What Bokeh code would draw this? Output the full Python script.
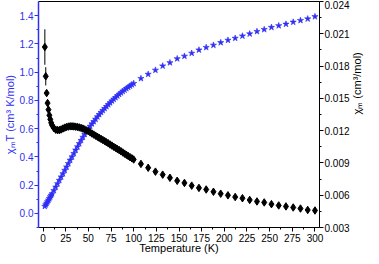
import math
from bokeh.plotting import figure
from bokeh.models import (Range1d, LinearAxis, FixedTicker, SingleIntervalTicker,
                          NumeralTickFormatter)
from bokeh.embed import file_html
from bokeh.resources import INLINE

# Temperature (K)
temps = [2, 3, 4, 5, 6, 7, 8, 9, 10, 12, 14, 16, 18, 20, 22, 24, 26, 28, 30, 32,
         34, 36, 38, 40, 42, 44, 46, 48, 50, 52, 54, 56, 58, 60, 62, 64, 66, 68, 70,
         72, 74, 76, 78, 80, 82, 84, 86, 88, 90, 92, 94, 96, 98, 100,
         108, 116, 124, 132, 140, 148, 156, 164, 172, 180, 188, 196, 204, 212, 220,
         228, 236, 244, 252, 260, 268, 276, 284, 292, 300]

# chi_m T (cm3 K/mol), left axis
chiT = [0.050, 0.061, 0.072, 0.083, 0.094, 0.105, 0.117, 0.128, 0.139, 0.162,
        0.186, 0.210, 0.234, 0.258, 0.281, 0.305, 0.329, 0.353, 0.377, 0.400,
        0.424, 0.448, 0.471, 0.494, 0.517, 0.539, 0.560, 0.580, 0.599, 0.617,
        0.634, 0.650, 0.667, 0.684, 0.700, 0.715, 0.729, 0.743, 0.757,
        0.770, 0.783, 0.796, 0.808, 0.820, 0.832, 0.843, 0.854, 0.864, 0.874,
        0.884, 0.893, 0.902, 0.911, 0.920,
        0.955, 0.985, 1.014, 1.044, 1.067, 1.095, 1.113, 1.134, 1.157, 1.175,
        1.191, 1.209, 1.226, 1.240, 1.256, 1.271, 1.288, 1.302, 1.317, 1.329,
        1.340, 1.354, 1.366, 1.377, 1.393]

# chi_m (cm3/mol), right axis
chi = [0.01977, 0.01705, 0.01549, 0.01456, 0.01395, 0.01343, 0.01305, 0.01273,
       0.01250, 0.01223, 0.01209, 0.01205, 0.01205, 0.01211, 0.01220, 0.01228,
       0.01234, 0.01238, 0.01240, 0.01240, 0.01239, 0.01237, 0.01234, 0.01230,
       0.01225, 0.01219, 0.01211, 0.01202, 0.01194, 0.01184, 0.01173, 0.01163,
       0.01153, 0.01143, 0.01133, 0.01123, 0.01113, 0.01103, 0.01092, 0.01082,
       0.01071, 0.01061, 0.01050, 0.01040, 0.01029, 0.01019, 0.01008, 0.00997,
       0.00986, 0.00975, 0.00964, 0.00953, 0.00943, 0.00932,
       0.00891, 0.00855, 0.00819, 0.00791, 0.00762, 0.00734, 0.00714, 0.00689,
       0.00668, 0.00653, 0.00632, 0.00614, 0.00599, 0.00583, 0.00572, 0.00556,
       0.00542, 0.00533, 0.00517, 0.00505, 0.00496, 0.00486, 0.00476, 0.00463,
       0.00458]

# error bars on the lowest-temperature chi_m points
err_temps = [2, 3]
err_chi = [0.01977, 0.01705]
err_size = [0.00165, 0.00085]

BLUE = "#2e2ef5"
FONT = "Liberation Sans"

p = figure(width=371, height=256, output_backend="svg", toolbar_location=None,
           x_range=Range1d(-5, 305), y_range=Range1d(-0.1, 1.5),
           min_border_left=33, min_border_right=30, min_border_top=1,
           min_border_bottom=10)
p.outline_line_color = None
p.xgrid.visible = False
p.ygrid.visible = False
p.background_fill_color = "white"
p.border_fill_color = "white"

p.extra_y_ranges = {"right": Range1d(0.003, 0.024)}


def style(ax, color="black"):
    ax.axis_label_text_font = FONT
    ax.axis_label_text_font_size = "11px"
    ax.axis_label_text_font_style = "normal"
    ax.axis_label_text_color = color
    ax.major_label_text_font = FONT
    ax.major_label_text_font_size = "10px"
    ax.major_label_text_color = color
    ax.major_label_standoff = 1
    ax.major_tick_out = 4
    ax.major_tick_in = 0
    ax.minor_tick_out = 2
    ax.minor_tick_in = 0
    ax.axis_line_color = color
    ax.major_tick_line_color = color
    ax.minor_tick_line_color = color


# bottom axis
xa = p.xaxis[0]
style(xa)
xa.ticker = SingleIntervalTicker(interval=25, num_minor_ticks=2)
xa.axis_label = "Temperature (K)"
xa.major_label_standoff = 2
xa.axis_label_standoff = -3

# left axis (blue)
ya = p.yaxis[0]
style(ya, BLUE)
ya.ticker = SingleIntervalTicker(interval=0.2, num_minor_ticks=2)
ya.formatter = NumeralTickFormatter(format="0.0")
ya.axis_label = "χₘT (cm³ K/mol)"
ya.axis_label_standoff = 1
ya.axis_line_width = 1.5

# right axis
ra = LinearAxis(y_range_name="right",
                ticker=SingleIntervalTicker(interval=0.003, num_minor_ticks=2),
                formatter=NumeralTickFormatter(format="0.000"))
style(ra)
ra.axis_label = "χₘ (cm³/mol)"
ra.axis_label_standoff = 4
ra.axis_label_orientation = math.pi / 2
p.add_layout(ra, "right")

# top border
ta = LinearAxis(ticker=FixedTicker(ticks=[]), major_label_text_font_size="0px",
                major_label_standoff=0, major_tick_out=0, minor_tick_out=0)
ta.major_tick_line_color = None
ta.minor_tick_line_color = None
ta.axis_line_color = "black"
p.add_layout(ta, "above")

# chi_m T: blue stars
p.scatter(temps, chiT, marker="star", size=6.5, fill_color=BLUE,
          line_color=BLUE, line_alpha=0.6)

# chi_m: black diamonds with error bars
p.segment(x0=err_temps, x1=err_temps,
          y0=[c - e for c, e in zip(err_chi, err_size)],
          y1=[c + e for c, e in zip(err_chi, err_size)],
          line_color="black", line_width=1, y_range_name="right")
p.scatter(temps, chi, marker="diamond", size=7.5, fill_color="black",
          line_color="black", y_range_name="right")

open("out.html", "w").write(file_html(p, INLINE))
